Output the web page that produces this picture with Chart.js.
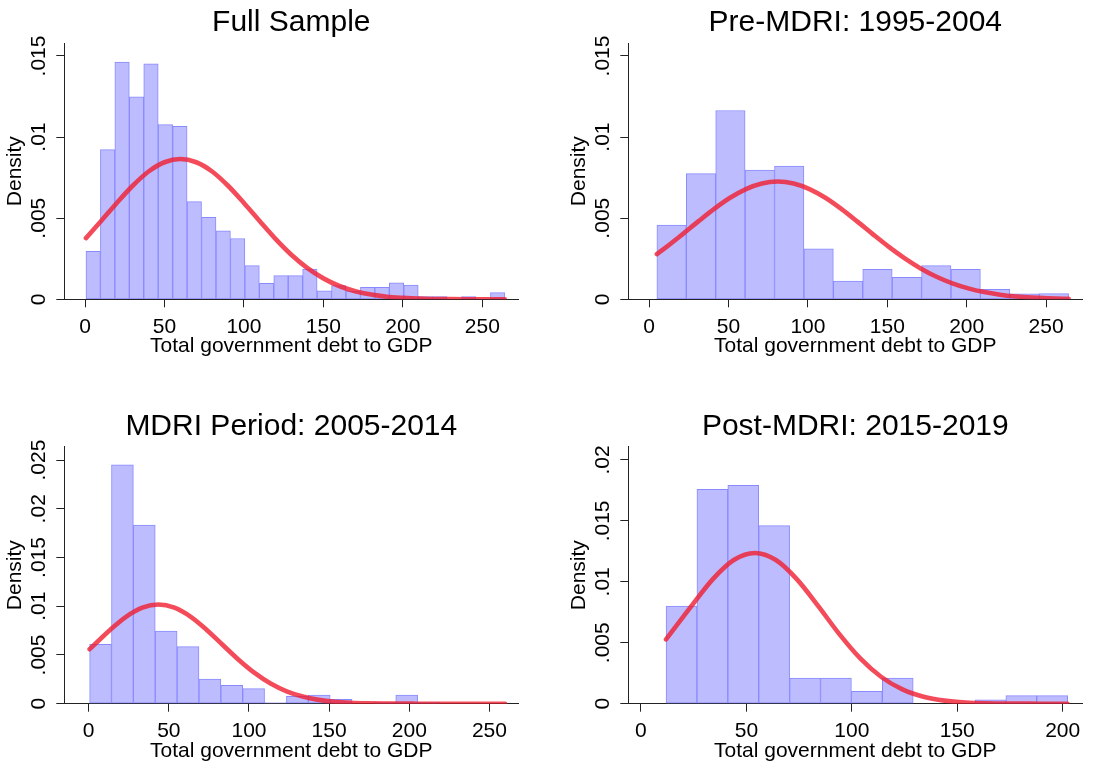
<!DOCTYPE html>
<html><head><meta charset="utf-8">
<script src="https://cdn.jsdelivr.net/npm/chart.js@4.4.1/dist/chart.umd.min.js"></script>
<style>
html,body{margin:0;padding:0;background:#fff;width:1094px;height:767px;overflow:hidden;}
canvas{position:absolute;display:block;}
</style></head><body>
<canvas id="c1" width="547" height="383" style="left:0;top:0"></canvas>
<canvas id="c2" width="530" height="383" style="left:564px;top:0"></canvas>
<canvas id="c3" width="547" height="363" style="left:0;top:404px"></canvas>
<canvas id="c4" width="530" height="363" style="left:564px;top:404px"></canvas>
<script>
// ---------- Titles / axis text ----------
const panelTitles = ["Full Sample", "Pre-MDRI: 1995-2004", "MDRI Period: 2005-2014", "Post-MDRI: 2015-2019"];
const xAxisTitle = "Total government debt to GDP";
const yAxisTitle = "Density";

// ---------- Tick values / labels ----------
const xTicksWide = [0, 50, 100, 150, 200, 250];
const xTicksNarrow = [0, 50, 100, 150, 200];
const yTicksA = [0, 0.005, 0.01, 0.015];
const yLabelsA = ["0", ".005", ".01", ".015"];
const yTicksC = [0, 0.005, 0.01, 0.015, 0.02, 0.025];
const yLabelsC = ["0", ".005", ".01", ".015", ".02", ".025"];
const yTicksD = [0, 0.005, 0.01, 0.015, 0.02];
const yLabelsD = ["0", ".005", ".01", ".015", ".02"];

// ---------- Panel 1: Full Sample (histogram bin centres / densities) ----------
const fullBins = [5.15, 14.24, 23.33, 32.42, 41.51, 50.60, 59.69, 68.78, 77.87, 86.96, 96.05, 105.14, 114.23, 123.32, 132.41, 141.50, 150.59, 159.68, 168.77, 177.86, 186.95, 196.04, 205.13, 214.22, 223.31, 232.40, 241.49, 250.58, 259.67];
const fullDensity = [0.00295, 0.00923, 0.01463, 0.01248, 0.01452, 0.01077, 0.01067, 0.00602, 0.00505, 0.00422, 0.00375, 0.00208, 0.00099, 0.00146, 0.00146, 0.00187, 0.00052, 0.00085, 0.00050, 0.00074, 0.00074, 0.00101, 0.00088, 0.00016, 0.00016, 0, 0.00016, 0, 0.00041];
const fullCurveX = [0.6, 10, 20, 30, 40, 50, 60, 70, 80, 90, 100, 110, 120, 130, 140, 150, 160, 170, 180, 190, 200, 210, 220, 230, 240, 250, 264.2];
const fullCurveY = [0.00377, 0.00481, 0.00594, 0.00700, 0.00788, 0.00845, 0.00865, 0.00845, 0.00788, 0.00700, 0.00594, 0.00481, 0.00371, 0.00273, 0.00192, 0.00129, 0.00082, 0.00050, 0.00029, 0.00016, 0.00009, 0.00004, 0.00002, 0.00001, 0.000004, 0.000002, 0.0000004];

// ---------- Panel 2: Pre-MDRI ----------
const preBins = [14.16, 32.68, 51.20, 69.72, 88.24, 106.76, 125.28, 143.80, 162.32, 180.84, 199.36, 217.88, 236.40, 254.92];
const preDensity = [0.00457, 0.00775, 0.01164, 0.00797, 0.00822, 0.00311, 0.00112, 0.00184, 0.00135, 0.00208, 0.00184, 0.00062, 0.00033, 0.00035];
const preCurveX = [4.9, 11, 21, 31, 41, 51, 61, 71, 81, 91, 101, 111, 121, 131, 141, 151, 161, 171, 181, 191, 201, 211, 221, 231, 241, 251, 261, 264.2];
const preCurveY = [0.002788, 0.003230, 0.004005, 0.004803, 0.005573, 0.006257, 0.006795, 0.007141, 0.00726, 0.007141, 0.006795, 0.006257, 0.005573, 0.004803, 0.004005, 0.003230, 0.002521, 0.001903, 0.001390, 0.000982, 0.000672, 0.000444, 0.000284, 0.000176, 0.000105, 0.0000611, 0.0000343, 0.0000283];

// ---------- Panel 3: MDRI Period ----------
const mdriBins = [7.42, 21.06, 34.70, 48.34, 61.98, 75.62, 89.26, 102.90, 116.54, 130.18, 143.82, 157.46, 171.10, 184.74, 198.38, 212.02, 225.66, 239.30, 252.94];
const mdriDensity = [0.00609, 0.02452, 0.01833, 0.00746, 0.00585, 0.00253, 0.00188, 0.00154, 0.00012, 0.00075, 0.00089, 0.00045, 0, 0.00015, 0.00088, 0.00015, 0, 0, 0];
const mdriCurveX = [0.6, 13.5, 23.5, 33.5, 43.5, 53.5, 63.5, 73.5, 83.5, 93.5, 103.5, 113.5, 123.5, 133.5, 143.5, 153.5, 163.5, 173.5, 183.5, 193.5, 203.5, 213.5, 223.5, 233.5, 243.5, 253.5, 259.8];
const mdriCurveY = [0.005593, 0.007595, 0.008937, 0.009854, 0.01018, 0.009854, 0.008937, 0.007595, 0.006049, 0.004513, 0.003155, 0.002067, 0.001269, 0.000730, 0.000393, 0.000199, 0.000094, 0.0000416, 0.0000173, 0.0000067, 0.0000025, 0.0000008, 0.0000003, 0.0000001, 0, 0, 0];

// ---------- Panel 4: Post-MDRI ----------
const postBins = [19.23, 33.88, 48.53, 63.18, 77.83, 92.48, 107.13, 121.78, 136.43, 151.08, 165.73, 180.38, 195.03];
const postDensity = [0.00802, 0.01759, 0.01792, 0.01461, 0.00210, 0.00210, 0.00101, 0.00210, 0, 0, 0.00032, 0.00066, 0.00066];
const postCurveX = [11.9, 24, 34, 44, 54, 64, 74, 84, 94, 104, 114, 124, 134, 144, 154, 164, 174, 184, 194, 202.3];
const postCurveY = [0.005276, 0.008026, 0.010206, 0.011790, 0.01237, 0.011790, 0.010206, 0.008026, 0.005732, 0.003718, 0.002192, 0.001173, 0.000570, 0.000252, 0.000101, 0.0000369, 0.0000122, 0.0000037, 0.000001, 0.0000003];

// ---------- drawing ----------
const FONT = "'Liberation Sans', Arial, Helvetica, sans-serif";
const AXIS = '#222';

function makePanel(id, title, bins, dens, cx, cy, xTicks, yTicks, yLabels, lay) {
  const ctx = document.getElementById(id).getContext('2d');
  return new Chart(ctx, {
    data: {
      datasets: [
        {
          type: 'line', order: 0,
          data: cx.map((x, i) => ({x: x, y: cy[i]})),
          borderColor: 'rgba(240,30,48,0.8)', borderWidth: 4.6,
          pointRadius: 0, fill: false, cubicInterpolationMode: 'monotone',
          borderCapStyle: 'round', borderJoinStyle: 'round'
        },
        {
          type: 'bar', order: 1,
          data: bins.map((x, i) => ({x: x, y: dens[i]})),
          backgroundColor: 'rgb(188,188,255)',
          borderColor: 'rgb(138,138,255)', borderWidth: 1, borderSkipped: false,
          barPercentage: 1, categoryPercentage: 1
        }
      ]
    },
    options: {
      responsive: false, animation: false, devicePixelRatio: 1,
      layout: {padding: {top: 0, left: 0, right: lay.padRight, bottom: lay.padBottom}},
      plugins: {
        legend: {display: false}, tooltip: {enabled: false},
        title: {display: true, text: title, fullSize: false, color: '#000',
          font: {family: FONT, size: 30, weight: 'normal', lineHeight: 1.2},
          padding: {top: 5, bottom: lay.titleBottom}}
      },
      scales: {
        x: {
          type: 'linear', position: 'bottom', min: lay.xmin, max: lay.xmax, offset: false,
          afterBuildTicks: s => { s.ticks = xTicks.map(v => ({value: v})); },
          afterFit: s => { s.height = 60; s.paddingLeft = 0; s.paddingRight = 0; s.paddingTop = 0; s.paddingBottom = 0; },
          ticks: {autoSkip: false, maxRotation: 0, minRotation: 0, padding: 7, color: '#000',
            font: {family: FONT, size: 21, lineHeight: 1.2},
            callback: v => String(v)},
          grid: {drawOnChartArea: false, drawTicks: true, tickLength: 8, color: AXIS, tickWidth: 1, offset: false},
          border: {display: true, color: AXIS, width: 1},
          title: {display: true, text: xAxisTitle, color: '#000',
            font: {family: FONT, size: 21, lineHeight: 1.2}, padding: {top: 0, bottom: 0}}
        },
        y: {
          type: 'linear', position: 'left', min: 0, max: lay.ymax,
          afterBuildTicks: s => { s.ticks = yTicks.map(v => ({value: v})); },
          afterFit: s => { s.width = 64.3; s.paddingLeft = 0; s.paddingRight = 0; s.paddingTop = 0; s.paddingBottom = 0; },
          ticks: {autoSkip: false, minRotation: 90, maxRotation: 90, crossAlign: 'center', padding: -3.3, color: '#000',
            font: {family: FONT, size: 21, lineHeight: 1.2},
            callback: (v, i) => yLabels[i]},
          grid: {drawOnChartArea: false, drawTicks: true, tickLength: 8, color: AXIS, tickWidth: 1},
          border: {display: true, color: AXIS, width: 1},
          title: {display: true, text: yAxisTitle, color: '#000',
            font: {family: FONT, size: 21, lineHeight: 1.2}, padding: {top: 3.1, bottom: 0}}
        }
      }
    }
  });
}

makePanel('c1', panelTitles[0], fullBins, fullDensity, fullCurveX, fullCurveY, xTicksWide, yTicksA, yLabelsA,
  {padRight: 28.7, padBottom: 23.7, titleBottom: 2, xmin: -13.03, xmax: 272.65, ymax: 0.015801});
makePanel('c2', panelTitles[1], preBins, preDensity, preCurveX, preCurveY, xTicksWide, yTicksA, yLabelsA,
  {padRight: 11.7, padBottom: 23.7, titleBottom: 2, xmin: -13.1, xmax: 272.8, ymax: 0.015801});
makePanel('c3', panelTitles[2], mdriBins, mdriDensity, mdriCurveX, mdriCurveY, xTicksWide, yTicksC, yLabelsC,
  {padRight: 28.7, padBottom: 3.3, titleBottom: 1.7, xmin: -15.2, xmax: 268.0, ymax: 0.02637});
makePanel('c4', panelTitles[3], postBins, postDensity, postCurveX, postCurveY, xTicksNarrow, yTicksD, yLabelsD,
  {padRight: 11.7, padBottom: 3.3, titleBottom: 1.7, xmin: -6.0, xmax: 209.3, ymax: 0.02109});
</script>
</body></html>
